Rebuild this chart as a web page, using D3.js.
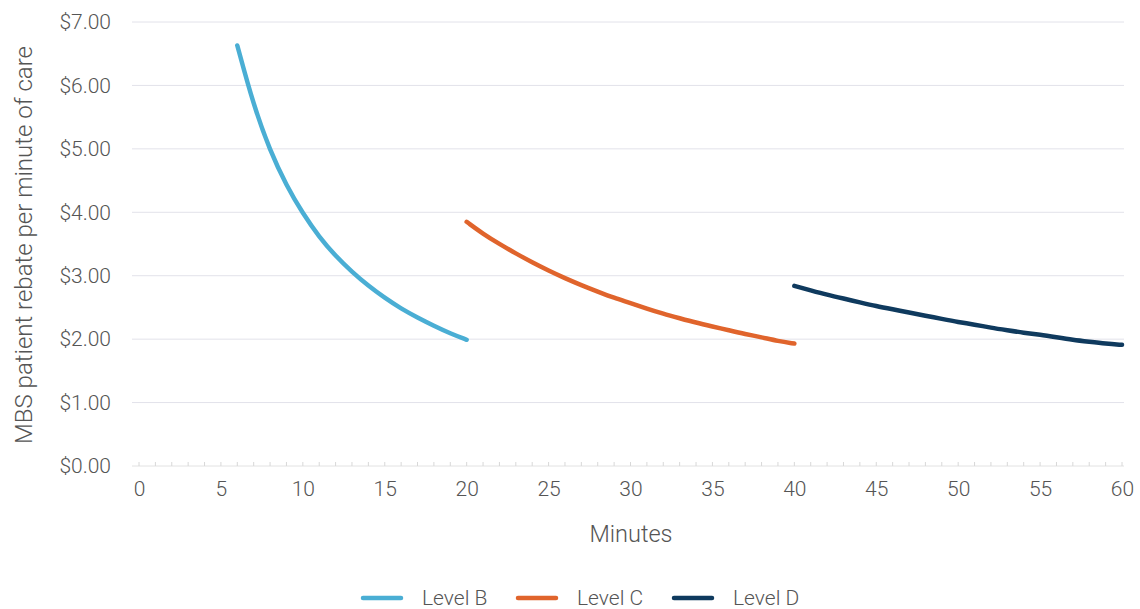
<!DOCTYPE html>
<html><head><meta charset="utf-8">
<script src="https://cdn.jsdelivr.net/npm/d3@7"></script>
<style>
body{margin:0;background:#fff;}
svg{font-family:Roboto,"Open Sans",sans-serif;}
</style></head>
<body><svg id="c" width="1140" height="609"></svg>
<script>
const levelBMinutes = [6,7,8,9,10,11,12,13,14,15,16,17,18,19,20];
const levelBValues  = [6.63,5.68,4.97,4.42,3.98,3.61,3.31,3.06,2.84,2.65,2.48,2.34,2.21,2.09,1.99];
const levelCMinutes = [20,21,22,23,24,25,26,27,28,29,30,31,32,33,34,35,36,37,38,39,40];
const levelCValues  = [3.85,3.66,3.50,3.35,3.21,3.08,2.96,2.85,2.75,2.65,2.57,2.48,2.40,2.33,2.26,2.20,2.14,2.08,2.03,1.97,1.93];
const levelDMinutes = [40,41,42,43,44,45,46,47,48,49,50,51,52,53,54,55,56,57,58,59,60];
const levelDValues  = [2.84,2.77,2.70,2.64,2.58,2.52,2.47,2.42,2.37,2.32,2.27,2.23,2.18,2.14,2.10,2.07,2.03,1.99,1.96,1.93,1.91];
const seriesNames = ["Level B","Level C","Level D"];
const seriesColors = ["#4aaed4","#e0642c","#0f3a5e"];
const xTicks = [0,5,10,15,20,25,30,35,40,45,50,55,60];
const yTicks = [0,1,2,3,4,5,6,7];

const svg = d3.select("#c");
const x = d3.scaleLinear().domain([0,60]).range([139,1122]);
const y = d3.scaleLinear().domain([0,7]).range([466,22]);
const textCol = "#555";

// gridlines
svg.append("g").selectAll("line").data(yTicks.filter(d=>d>0)).join("line")
  .attr("x1",132).attr("x2",1124).attr("y1",d=>y(d)).attr("y2",d=>y(d))
  .attr("stroke","#e2e2ea").attr("stroke-width",1);

// baseline with minor ticks
svg.append("line").attr("x1",132).attr("x2",1124).attr("y1",y(0)).attr("y2",y(0))
  .attr("stroke","#e2e2e2").attr("stroke-width",1);
svg.append("g").selectAll("line").data(d3.range(0,61)).join("line")
  .attr("x1",d=>x(d)).attr("x2",d=>x(d)).attr("y1",y(0)).attr("y2",y(0)-4)
  .attr("stroke","#d8d8d8").attr("stroke-width",1);

// y axis labels
const yAxis = d3.axisLeft(y).tickValues(yTicks).tickFormat(d=>"$"+d3.format(".2f")(d)).tickSize(0).tickPadding(0);
const ga = svg.append("g").attr("transform","translate(111,0)").call(yAxis);
ga.select(".domain").remove();
ga.selectAll("text").attr("font-size",21).attr("fill",textCol).attr("font-family","Roboto,sans-serif").attr("font-weight",300);

// x axis labels
const xAxis = d3.axisBottom(x).tickValues(xTicks).tickSize(0).tickPadding(0);
const gx = svg.append("g").attr("transform","translate(0,481)").call(xAxis);
gx.select(".domain").remove();
gx.selectAll("text").attr("font-size",21).attr("fill",textCol).attr("font-family","Roboto,sans-serif").attr("font-weight",300);

// titles
svg.append("text").attr("x",631).attr("y",542).attr("text-anchor","middle")
  .attr("font-size",23.5).attr("fill",textCol).attr("font-weight",300).text("Minutes");
svg.append("text").attr("transform","translate(32,245) rotate(-90)").attr("text-anchor","middle")
  .attr("font-size",24).attr("fill",textCol).attr("font-weight",300).text("MBS patient rebate per minute of care");

// series
const series = [
  {m:levelBMinutes,v:levelBValues},
  {m:levelCMinutes,v:levelCValues},
  {m:levelDMinutes,v:levelDValues}
];
const line = d3.line().x(d=>x(d[0])).y(d=>y(d[1])).curve(d3.curveBasis);
series.forEach((s,i)=>{
  svg.append("path").datum(s.m.map((m,j)=>[m,s.v[j]]))
    .attr("d",line).attr("fill","none").attr("stroke",seriesColors[i])
    .attr("stroke-width",4.5).attr("stroke-linecap","round");
});

// legend
const legX = [363,518,674];
const lg = svg.append("g");
seriesNames.forEach((n,i)=>{
  lg.append("line").attr("x1",legX[i]).attr("x2",legX[i]+38).attr("y1",598).attr("y2",598)
    .attr("stroke",seriesColors[i]).attr("stroke-width",4.5).attr("stroke-linecap","round");
  lg.append("text").attr("x",legX[i]+59).attr("y",605).attr("font-size",21)
    .attr("fill",textCol).attr("font-weight",300).text(n);
});
</script></body></html>
